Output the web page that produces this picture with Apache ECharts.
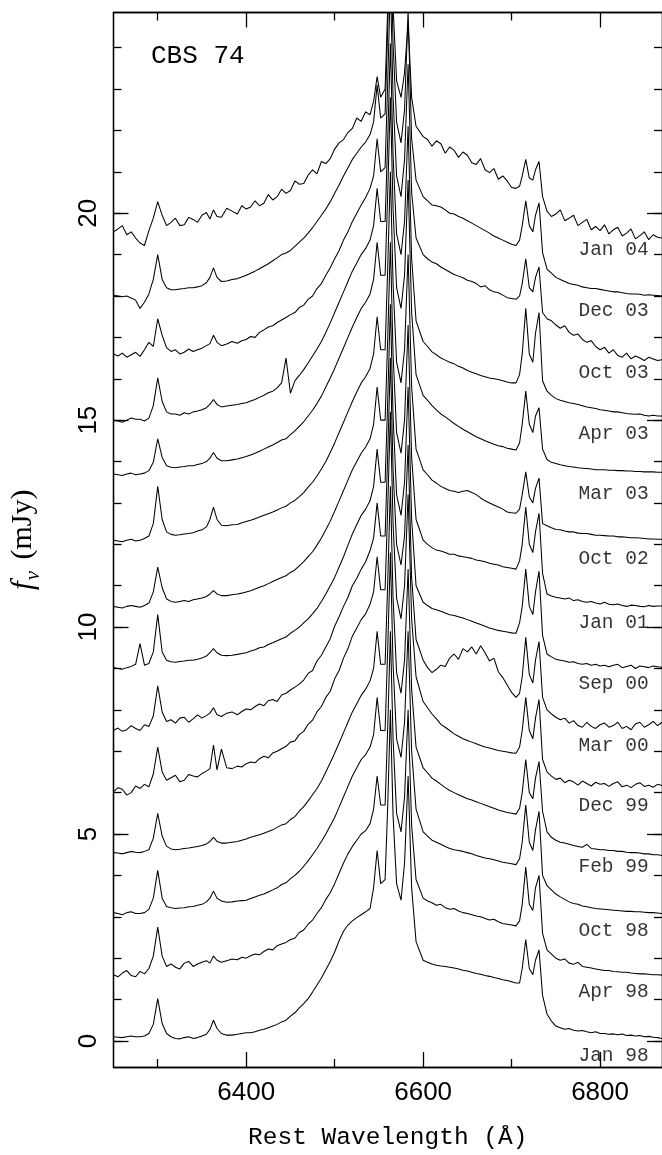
<!DOCTYPE html>
<html>
<head>
<meta charset="utf-8">
<script src="https://cdn.jsdelivr.net/npm/echarts@6/dist/echarts.min.js"></script>
<style>
  html, body { margin: 0; padding: 0; background: #fff; }
  #chart { width: 662px; height: 1155px; }
</style>
</head>
<body>
<div id="chart"></div>
<script>
// Rest wavelength grid (Angstrom) shared by every spectrum, one row per block
const wavelength = [
  6250, 6255, 6260, 6265, 6270, 6275, 6280, 6285, 6290, 6295,
  6300, 6305, 6310, 6315, 6320, 6325, 6330, 6335, 6340, 6345,
  6350, 6355, 6359, 6363, 6367, 6372, 6378, 6384, 6390, 6395,
  6400, 6405, 6410, 6415, 6420, 6425, 6430, 6435, 6440, 6445,
  6450, 6455, 6460, 6465, 6470, 6475, 6480, 6485, 6490, 6495,
  6500, 6505, 6510, 6515, 6520, 6525, 6530, 6535, 6540,
  6544, 6548, 6552, 6557, 6560, 6563, 6566, 6570, 6575, 6579, 6583, 6587, 6592,
  6600, 6605, 6610, 6615, 6620, 6625, 6630, 6635, 6640, 6645, 6650,
  6655, 6660, 6665, 6670, 6675, 6680, 6685, 6690, 6695, 6700, 6705,
  6709, 6712, 6716, 6720, 6724, 6727, 6731, 6735, 6740,
  6745, 6750, 6755, 6760, 6765, 6770, 6775, 6780, 6785, 6790, 6795, 6800, 6805,
  6810, 6815, 6820, 6825, 6830, 6835, 6840, 6845, 6850, 6855, 6860, 6865, 6870
];

// Epoch names, top spectrum first
const epochs = ['Jan 04', 'Dec 03', 'Oct 03', 'Apr 03', 'Mar 03', 'Oct 02', 'Jan 01',
                'Sep 00', 'Mar 00', 'Dec 99', 'Feb 99', 'Oct 98', 'Apr 98', 'Jan 98'];

// Offset flux density (mJy) of each epoch on the wavelength grid
const fluxJan04 = [
  19.55, 19.62, 19.70, 19.48, 19.55, 19.40, 19.28, 19.22, 19.58, 19.88,
  20.28, 19.95, 19.70, 19.78, 19.88, 19.70, 19.72, 19.90, 19.85, 19.78,
  19.95, 20.02, 19.86, 20.08, 19.92, 19.90, 20.12, 20.05, 19.98, 20.18,
  20.10, 20.15, 20.30, 20.18, 20.24, 20.45, 20.32, 20.40, 20.58, 20.48,
  20.55, 20.78, 20.70, 20.72, 20.92, 21.05, 20.95, 21.25, 21.20, 21.32,
  21.55, 21.70, 21.78, 21.95, 22.05, 22.30, 22.22, 22.45, 22.38,
  22.70, 23.30, 22.80, 23.00, 25.00, 27.50, 25.00, 23.20, 22.80, 23.40, 24.60, 22.80, 22.10,
  21.85, 21.78, 21.62, 21.75, 21.68, 21.45, 21.60, 21.52, 21.35, 21.48, 21.40,
  21.22, 21.18, 21.32, 21.05, 20.98, 21.08, 20.82, 20.90, 20.78, 20.62, 20.60,
  20.65, 20.90, 21.30, 20.85, 20.80, 21.05, 21.25, 20.40, 20.05,
  19.92, 19.98, 20.08, 19.82, 19.88, 19.95, 19.70, 19.78, 19.85, 19.60, 19.68, 19.58, 19.72,
  19.50, 19.60, 19.66, 19.45, 19.52, 19.62, 19.38, 19.46, 19.55, 19.36, 19.48, 19.42, 19.40
];
const fluxDec03 = [
  18.02, 18.00, 17.98, 18.00, 17.95, 17.90, 17.70, 17.85, 18.05, 18.40,
  19.00, 18.40, 18.20, 18.15, 18.15, 18.17, 18.18, 18.20, 18.20, 18.22,
  18.25, 18.32, 18.45, 18.68, 18.45, 18.35, 18.36, 18.40, 18.42, 18.46,
  18.50, 18.55, 18.60, 18.66, 18.72, 18.78, 18.85, 18.92, 19.00, 19.04,
  19.10, 19.20, 19.30, 19.40, 19.52, 19.65, 19.80, 19.95, 20.10, 20.28,
  20.48, 20.68, 20.90, 21.10, 21.30, 21.45, 21.60, 21.72, 21.90,
  22.20, 23.10, 22.30, 22.40, 24.50, 26.90, 24.10, 22.20, 21.70, 22.50, 24.90, 21.80, 20.80,
  20.40, 20.30, 20.20, 20.18, 20.15, 20.08, 20.00, 19.98, 19.92, 19.88, 19.82,
  19.76, 19.70, 19.64, 19.58, 19.52, 19.45, 19.40, 19.35, 19.30, 19.25, 19.22,
  19.35, 19.70, 20.30, 19.70, 19.55, 19.95, 20.25, 19.05, 18.65,
  18.55, 18.45, 18.40, 18.35, 18.30, 18.28, 18.26, 18.22, 18.20, 18.18, 18.18, 18.16, 18.14,
  18.12, 18.10, 18.10, 18.08, 18.06, 18.05, 18.05, 18.04, 18.02, 18.03, 18.02, 18.01, 18.00
];
const fluxOct03 = [
  16.60, 16.55, 16.62, 16.52, 16.58, 16.64, 16.54, 16.70, 16.88, 16.78,
  17.45, 17.05, 16.75, 16.66, 16.70, 16.60, 16.64, 16.72, 16.66, 16.70,
  16.74, 16.80, 16.85, 17.05, 16.88, 16.80, 16.84, 16.90, 16.86, 16.92,
  16.95, 17.02, 17.00, 17.12, 17.18, 17.25, 17.28, 17.36, 17.42, 17.48,
  17.55, 17.60, 17.72, 17.78, 17.92, 18.00, 18.18, 18.30, 18.50, 18.68,
  18.90, 19.10, 19.35, 19.55, 19.80, 20.00, 20.20, 20.38, 20.60,
  20.90, 21.80, 21.00, 21.10, 23.20, 25.60, 22.80, 20.90, 20.40, 21.30, 23.60, 20.50, 19.40,
  19.00, 18.90, 18.82, 18.78, 18.70, 18.64, 18.58, 18.52, 18.48, 18.44, 18.38,
  18.35, 18.30, 18.22, 18.25, 18.15, 18.10, 18.08, 18.02, 17.96, 17.94, 17.92,
  18.00, 18.30, 18.90, 18.20, 18.10, 18.45, 18.70, 17.60, 17.45,
  17.40, 17.30, 17.22, 17.28, 17.12, 17.05, 17.08, 16.95, 16.88, 16.92, 16.78, 16.70, 16.76,
  16.62, 16.70, 16.56, 16.52, 16.62, 16.48, 16.55, 16.50, 16.44, 16.52, 16.48, 16.44, 16.46
];
const fluxApr03 = [
  15.00, 14.98, 14.95, 15.00, 15.05, 15.02, 15.02, 14.98, 15.05, 15.35,
  16.02, 15.45, 15.20, 15.15, 15.15, 15.12, 15.18, 15.15, 15.20, 15.22,
  15.25, 15.30, 15.38, 15.50, 15.38, 15.32, 15.34, 15.36, 15.38, 15.40,
  15.42, 15.46, 15.50, 15.55, 15.60, 15.66, 15.70, 15.78, 15.90, 16.50,
  15.65, 15.95, 16.08, 16.22, 16.38, 16.55, 16.72, 16.90, 17.12, 17.35,
  17.60, 17.85, 18.10, 18.35, 18.60, 18.80, 19.00, 19.15, 19.35,
  19.70, 20.60, 19.80, 19.80, 21.80, 24.10, 21.40, 19.50, 19.00, 19.80, 22.10, 18.90, 17.40,
  16.90, 16.78, 16.65, 16.58, 16.50, 16.45, 16.40, 16.36, 16.30, 16.26, 16.20,
  16.16, 16.12, 16.08, 16.05, 16.02, 16.00, 15.98, 15.95, 15.92, 15.90, 15.90,
  16.10, 16.60, 17.70, 16.60, 16.40, 17.10, 17.60, 15.95, 15.70,
  15.60, 15.52, 15.48, 15.45, 15.42, 15.40, 15.38, 15.35, 15.32, 15.30, 15.28, 15.25, 15.24,
  15.22, 15.20, 15.20, 15.18, 15.16, 15.15, 15.14, 15.15, 15.12, 15.10, 15.12, 15.10, 15.10
];
const fluxMar03 = [
  13.70, 13.68, 13.66, 13.70, 13.72, 13.68, 13.70, 13.72, 13.78, 13.98,
  14.55, 14.10, 13.90, 13.86, 13.85, 13.87, 13.88, 13.90, 13.90, 13.93,
  13.95, 14.00, 14.08, 14.22, 14.08, 14.02, 14.02, 14.04, 14.06, 14.09,
  14.12, 14.16, 14.20, 14.25, 14.30, 14.35, 14.40, 14.46, 14.52, 14.55,
  14.65, 14.74, 14.85, 14.96, 15.10, 15.24, 15.40, 15.58, 15.80, 16.02,
  16.25, 16.50, 16.75, 17.00, 17.25, 17.48, 17.70, 17.85, 18.05,
  18.40, 19.30, 18.50, 18.50, 20.50, 22.80, 20.10, 18.20, 17.70, 18.50, 20.80, 17.60, 16.10,
  15.60, 15.48, 15.35, 15.25, 15.15, 15.08, 15.00, 14.92, 14.85, 14.78, 14.72,
  14.66, 14.60, 14.55, 14.50, 14.46, 14.42, 14.38, 14.36, 14.32, 14.30, 14.28,
  14.45, 14.90, 15.70, 14.90, 14.70, 15.10, 15.30, 14.30, 14.05,
  13.98, 13.95, 13.92, 13.90, 13.88, 13.87, 13.85, 13.84, 13.83, 13.82, 13.80, 13.80, 13.80,
  13.79, 13.79, 13.78, 13.78, 13.77, 13.77, 13.76, 13.76, 13.75, 13.75, 13.75, 13.74, 13.74
];
const fluxOct02 = [
  12.10, 12.08, 12.06, 12.10, 12.12, 12.08, 12.10, 12.14, 12.20, 12.50,
  13.40, 12.60, 12.30, 12.24, 12.22, 12.23, 12.25, 12.26, 12.28, 12.32,
  12.35, 12.42, 12.60, 12.90, 12.60, 12.46, 12.45, 12.47, 12.48, 12.52,
  12.55, 12.58, 12.62, 12.66, 12.70, 12.74, 12.78, 12.83, 12.88, 12.92,
  13.00, 13.06, 13.15, 13.25, 13.38, 13.50, 13.65, 13.82, 14.00, 14.22,
  14.45, 14.70, 14.95, 15.20, 15.45, 15.68, 15.90, 16.05, 16.25,
  16.60, 17.50, 16.70, 16.70, 18.70, 21.00, 18.30, 16.40, 15.90, 16.70, 19.00, 15.80, 14.30,
  13.80, 13.68, 13.55, 13.48, 13.40, 13.35, 13.30, 13.28, 13.25, 13.28, 13.30,
  13.25, 13.20, 13.12, 13.05, 13.00, 12.95, 12.90, 12.85, 12.78, 12.76, 12.75,
  12.85, 13.20, 13.75, 13.15, 13.00, 13.35, 13.60, 12.50, 12.45,
  12.40, 12.36, 12.35, 12.32, 12.30, 12.30, 12.27, 12.26, 12.26, 12.24, 12.22, 12.22, 12.21,
  12.20, 12.20, 12.18, 12.18, 12.17, 12.16, 12.16, 12.15, 12.14, 12.13, 12.13, 12.12, 12.12
];
const fluxJan01 = [
  10.50, 10.48, 10.46, 10.50, 10.52, 10.50, 10.48, 10.52, 10.58, 10.85,
  11.45, 10.95, 10.68, 10.62, 10.60, 10.62, 10.64, 10.62, 10.66, 10.68,
  10.70, 10.74, 10.80, 10.88, 10.80, 10.76, 10.76, 10.78, 10.80, 10.82,
  10.85, 10.88, 10.92, 10.96, 11.00, 11.05, 11.10, 11.15, 11.20, 11.24,
  11.32, 11.38, 11.48, 11.58, 11.70, 11.82, 11.98, 12.15, 12.35, 12.56,
  12.80, 13.05, 13.30, 13.55, 13.80, 14.00, 14.20, 14.35, 14.55,
  14.90, 15.80, 15.00, 15.00, 17.00, 19.30, 16.60, 14.70, 14.20, 15.00, 17.30, 14.10, 12.60,
  12.10, 12.00, 11.92, 11.86, 11.84, 11.80, 11.76, 11.76, 11.72, 11.70, 11.68,
  11.66, 11.62, 11.60, 11.58, 11.54, 11.52, 11.50, 11.46, 11.44, 11.42, 11.40,
  11.60, 12.00, 12.90, 12.00, 11.80, 12.30, 12.75, 11.30, 10.80,
  10.75, 10.72, 10.70, 10.68, 10.70, 10.64, 10.66, 10.62, 10.60, 10.62, 10.58, 10.56, 10.60,
  10.55, 10.54, 10.56, 10.52, 10.50, 10.53, 10.52, 10.50, 10.49, 10.52, 10.50, 10.51, 10.51
];
const fluxSep00 = [
  9.02, 9.00, 8.98, 9.02, 9.05, 9.10, 9.60, 9.08, 9.12, 9.40,
  10.30, 9.40, 9.20, 9.16, 9.15, 9.17, 9.18, 9.20, 9.20, 9.22,
  9.25, 9.30, 9.38, 9.48, 9.38, 9.32, 9.31, 9.32, 9.34, 9.36,
  9.38, 9.42, 9.45, 9.50, 9.52, 9.58, 9.62, 9.67, 9.72, 9.76,
  9.85, 9.92, 10.00, 10.10, 10.20, 10.32, 10.45, 10.62, 10.80, 11.00,
  11.20, 11.45, 11.70, 11.98, 12.25, 12.48, 12.70, 12.85, 13.05,
  13.40, 14.30, 13.50, 13.50, 15.50, 17.80, 15.10, 13.20, 12.70, 13.50, 15.80, 12.60, 11.00,
  10.60, 10.52, 10.45, 10.42, 10.38, 10.34, 10.30, 10.28, 10.25, 10.22, 10.18,
  10.14, 10.10, 10.06, 10.02, 9.98, 9.95, 9.92, 9.90, 9.88, 9.86, 9.85,
  10.10, 10.50, 11.40, 10.50, 10.30, 10.85, 11.35, 9.80, 9.35,
  9.28, 9.22, 9.20, 9.18, 9.15, 9.16, 9.12, 9.10, 9.12, 9.08, 9.10, 9.06, 9.08,
  9.04, 9.08, 9.10, 9.02, 9.05, 9.08, 9.00, 9.06, 9.04, 9.02, 9.06, 9.04, 9.03
];
const fluxMar00 = [
  7.50, 7.56, 7.48, 7.52, 7.62, 7.55, 7.50, 7.64, 7.60, 7.85,
  8.58, 7.95, 7.72, 7.76, 7.68, 7.80, 7.82, 7.70, 7.78, 7.88,
  7.80, 7.86, 7.92, 8.05, 7.88, 7.84, 7.92, 7.95, 7.88, 7.96,
  8.02, 8.00, 8.08, 8.14, 8.10, 8.22, 8.25, 8.20, 8.36, 8.40,
  8.48, 8.55, 8.62, 8.72, 8.88, 8.95, 9.18, 9.32, 9.52, 9.72,
  10.02, 10.25, 10.50, 10.72, 11.00, 11.18, 11.40, 11.58, 11.85,
  12.15, 13.00, 12.20, 12.20, 14.20, 16.50, 13.80, 12.00, 11.50, 12.20, 14.40, 11.20, 9.70,
  9.20, 9.02, 8.90, 8.98, 9.08, 9.05, 9.25, 9.35, 9.22, 9.48, 9.40,
  9.52, 9.35, 9.55, 9.38, 9.18, 9.25, 8.92, 8.78, 8.60, 8.42, 8.30,
  8.40, 8.80, 9.75, 8.85, 8.65, 9.20, 9.65, 8.30, 8.00,
  7.90, 7.82, 7.76, 7.80, 7.68, 7.74, 7.62, 7.58, 7.70, 7.60, 7.55, 7.64, 7.68,
  7.58, 7.62, 7.70, 7.55, 7.60, 7.52, 7.66, 7.70, 7.58, 7.64, 7.72, 7.62, 7.70
];
const fluxDec99 = [
  6.02, 6.12, 6.08, 5.94, 6.00, 6.16, 6.10, 6.20, 6.14, 6.45,
  7.10, 6.50, 6.30, 6.36, 6.42, 6.26, 6.30, 6.44, 6.40, 6.38,
  6.46, 6.52, 6.58, 7.15, 6.55, 7.05, 6.60, 6.58, 6.64, 6.62,
  6.70, 6.74, 6.72, 6.82, 6.88, 6.84, 6.96, 7.00, 7.06, 7.12,
  7.22, 7.25, 7.40, 7.48, 7.65, 7.75, 7.95, 8.08, 8.30, 8.45,
  8.75, 8.95, 9.25, 9.48, 9.78, 9.98, 10.18, 10.32, 10.55,
  10.85, 11.70, 10.90, 10.90, 12.90, 15.20, 12.50, 10.70, 10.20, 11.00, 13.20, 10.20, 8.80,
  8.20, 8.05, 7.90, 7.78, 7.65, 7.58, 7.50, 7.42, 7.36, 7.30, 7.26,
  7.22, 7.18, 7.14, 7.10, 7.08, 7.05, 7.02, 7.00, 6.98, 6.96, 6.95,
  7.10, 7.50, 8.30, 7.50, 7.30, 7.80, 8.25, 6.80, 6.50,
  6.40, 6.32, 6.35, 6.24, 6.30, 6.26, 6.18, 6.28, 6.22, 6.16, 6.25, 6.20, 6.22,
  6.15, 6.22, 6.26, 6.14, 6.18, 6.12, 6.20, 6.24, 6.15, 6.18, 6.13, 6.20, 6.17
];
const fluxFeb99 = [
  4.55, 4.54, 4.52, 4.55, 4.58, 4.56, 4.55, 4.58, 4.62, 4.90,
  5.50, 4.95, 4.70, 4.64, 4.62, 4.63, 4.65, 4.66, 4.68, 4.70,
  4.72, 4.76, 4.82, 4.92, 4.82, 4.78, 4.78, 4.80, 4.82, 4.85,
  4.88, 4.92, 4.95, 4.98, 5.02, 5.06, 5.10, 5.16, 5.22, 5.25,
  5.35, 5.42, 5.55, 5.66, 5.80, 5.95, 6.10, 6.28, 6.50, 6.72,
  6.95, 7.20, 7.45, 7.70, 7.95, 8.15, 8.35, 8.50, 8.70,
  9.00, 9.90, 9.10, 9.10, 11.10, 13.40, 10.70, 8.90, 8.40, 9.20, 11.40, 8.50, 7.10,
  6.60, 6.48, 6.35, 6.28, 6.20, 6.12, 6.05, 6.00, 5.95, 5.90, 5.85,
  5.82, 5.78, 5.74, 5.70, 5.66, 5.62, 5.58, 5.55, 5.52, 5.50, 5.48,
  5.62, 6.00, 6.80, 6.00, 5.85, 6.35, 6.75, 5.55, 5.05,
  4.92, 4.85, 4.80, 4.78, 4.75, 4.72, 4.70, 4.68, 4.75, 4.65, 4.64, 4.62, 4.62,
  4.60, 4.60, 4.58, 4.58, 4.56, 4.55, 4.55, 4.54, 4.52, 4.52, 4.50, 4.50, 4.48
];
const fluxOct98 = [
  3.10, 3.08, 3.05, 3.10, 3.12, 3.08, 3.08, 3.10, 3.18, 3.45,
  4.12, 3.45, 3.25, 3.22, 3.20, 3.21, 3.22, 3.24, 3.25, 3.28,
  3.30, 3.36, 3.45, 3.62, 3.45, 3.38, 3.35, 3.36, 3.38, 3.39,
  3.40, 3.44, 3.48, 3.52, 3.55, 3.60, 3.65, 3.70, 3.78, 3.82,
  3.92, 4.00, 4.10, 4.22, 4.35, 4.50, 4.65, 4.82, 5.00, 5.20,
  5.40, 5.65, 5.90, 6.15, 6.40, 6.60, 6.80, 6.92, 7.10,
  7.40, 8.30, 7.50, 7.50, 9.50, 11.80, 9.10, 7.30, 6.85, 7.70, 9.90, 7.00, 5.60,
  5.05, 4.95, 4.85, 4.80, 4.75, 4.70, 4.65, 4.62, 4.60, 4.58, 4.55,
  4.52, 4.48, 4.45, 4.42, 4.40, 4.38, 4.35, 4.32, 4.30, 4.28, 4.26,
  4.40, 4.80, 5.70, 4.80, 4.60, 5.10, 5.55, 4.00, 3.75,
  3.65, 3.55, 3.48, 3.42, 3.36, 3.32, 3.30, 3.26, 3.24, 3.22, 3.20, 3.19, 3.18,
  3.17, 3.16, 3.15, 3.14, 3.13, 3.13, 3.12, 3.12, 3.11, 3.10, 3.10, 3.09, 3.08
];
const fluxApr98 = [
  1.60, 1.55, 1.64, 1.70, 1.58, 1.55, 1.68, 1.62, 1.75, 2.05,
  2.75, 2.05, 1.80, 1.86, 1.78, 1.74, 1.88, 1.92, 1.80, 1.86,
  1.90, 1.94, 1.88, 2.05, 1.95, 1.90, 1.94, 1.98, 1.96, 2.02,
  2.00, 2.06, 2.10, 2.08, 2.16, 2.22, 2.20, 2.30, 2.34, 2.38,
  2.45, 2.48, 2.62, 2.68, 2.82, 2.92, 3.08, 3.22, 3.42, 3.58,
  3.80, 4.05, 4.30, 4.52, 4.70, 4.85, 5.00, 5.08, 5.25,
  5.60, 6.40, 5.70, 5.70, 7.60, 9.90, 7.30, 5.50, 5.05, 5.90, 8.00, 5.20, 3.90,
  3.45, 3.38, 3.34, 3.28, 3.30, 3.22, 3.18, 3.20, 3.14, 3.10, 3.08,
  3.05, 3.02, 3.00, 2.96, 2.92, 2.94, 2.88, 2.84, 2.82, 2.80, 2.78,
  2.90, 3.30, 4.20, 3.30, 3.15, 3.70, 4.00, 2.60, 2.20,
  2.10, 2.00, 1.95, 1.98, 1.88, 1.85, 1.90, 1.80, 1.78, 1.76, 1.74, 1.72, 1.70,
  1.70, 1.68, 1.67, 1.66, 1.66, 1.64, 1.63, 1.62, 1.62, 1.61, 1.60, 1.60, 1.59
];
const fluxJan98 = [
  0.10, 0.09, 0.08, 0.10, 0.12, 0.10, 0.10, 0.12, 0.18, 0.40,
  1.02, 0.42, 0.18, 0.10, 0.06, 0.05, 0.08, 0.10, 0.06, 0.08,
  0.12, 0.16, 0.28, 0.50, 0.30, 0.18, 0.14, 0.14, 0.16, 0.18,
  0.20, 0.20, 0.22, 0.26, 0.28, 0.32, 0.36, 0.40, 0.46, 0.50,
  0.60, 0.68, 0.80, 0.90, 1.02, 1.18, 1.35, 1.52, 1.72, 1.92,
  2.15, 2.42, 2.65, 2.80, 2.90, 2.98, 3.05, 3.12, 3.20,
  3.70, 4.60, 3.80, 3.90, 5.70, 8.00, 5.45, 3.80, 3.40, 4.30, 6.40, 3.70, 2.40,
  1.95, 1.90, 1.86, 1.83, 1.81, 1.80, 1.78, 1.76, 1.74, 1.71, 1.69,
  1.66, 1.63, 1.61, 1.58, 1.56, 1.53, 1.51, 1.48, 1.46, 1.43, 1.40,
  1.40, 1.75, 2.45, 1.75, 1.60, 1.95, 2.20, 1.10, 0.65,
  0.48, 0.36, 0.32, 0.28, 0.30, 0.26, 0.24, 0.25, 0.22, 0.20, 0.22, 0.18, 0.18,
  0.16, 0.17, 0.15, 0.17, 0.13, 0.14, 0.12, 0.13, 0.10, 0.11, 0.09, 0.08, 0.06
];

const spectra = [fluxJan04, fluxDec03, fluxOct03, fluxApr03, fluxMar03, fluxOct02, fluxJan01,
                 fluxSep00, fluxMar00, fluxDec99, fluxFeb99, fluxOct98, fluxApr98, fluxJan98];

// Flux level at which each epoch name sits, under the red end of its spectrum
const labelLevel = [19.12, 17.63, 16.14, 14.66, 13.21, 11.64, 10.11, 8.62, 7.14, 5.69, 4.20, 2.67, 1.19, -0.35];

// Tick values
const xMajorTicks = [6400, 6600, 6800];
const xMinorTicks = [6300, 6500, 6700];
const yMajorTicks = [0, 5, 10, 15, 20];
const yMinorTicks = [0, 1, 2, 3, 4, 5, 6, 7, 8, 9, 10, 11, 12, 13, 14, 15, 16, 17, 18, 19, 20, 21, 22, 23, 24];

// ---- layout and styling ----
const X_MIN = 6250, X_MAX = 6870;
const Y_MIN = -0.63, Y_MAX = 24.85;
const LABEL_X = 6855.5;
const INK = '#000';
const MONO = '"Liberation Mono", "DejaVu Sans Mono", monospace';
const SANS = '"Liberation Sans", Arial, sans-serif';
const SERIF = '"Liberation Serif", "DejaVu Serif", serif';
const plainNumber = v => String(v);

function xAxisFrame(position, ticks, tickLen, withLabels) {
  const ax = {
    type: 'value', gridIndex: 0, position: position, min: X_MIN, max: X_MAX,
    axisLine: { show: true, onZero: false, lineStyle: { color: INK, width: 1.3 } },
    axisTick: { show: true, inside: true, length: tickLen, customValues: ticks,
                lineStyle: { color: INK, width: 1.3 } },
    axisLabel: { show: false },
    splitLine: { show: false }
  };
  if (withLabels) {
    ax.axisLabel = { show: true, customValues: ticks, margin: 13, formatter: plainNumber,
                     fontFamily: SANS, fontSize: 26, color: INK };
    ax.name = 'Rest Wavelength (Å)';
    ax.nameLocation = 'middle';
    ax.nameGap = 58;
    ax.nameTextStyle = { fontFamily: MONO, fontSize: 24.5, color: INK };
  }
  return ax;
}

function yAxisFrame(position, ticks, tickLen, withLabels) {
  const ax = {
    type: 'value', gridIndex: 0, position: position, min: Y_MIN, max: Y_MAX,
    axisLine: { show: true, onZero: false, lineStyle: { color: INK, width: 1.3 } },
    axisTick: { show: true, inside: true, length: tickLen, customValues: ticks,
                lineStyle: { color: INK, width: 1.3 } },
    axisLabel: { show: false },
    splitLine: { show: false }
  };
  if (withLabels) {
    ax.axisLabel = { show: true, customValues: ticks, rotate: 90, margin: 12, formatter: plainNumber,
                     fontFamily: SANS, fontSize: 26, color: INK };
    ax.name = '{f|f}{nu|ν} (mJy)';
    ax.nameLocation = 'middle';
    ax.nameRotate = 90;
    ax.nameGap = 70;
    ax.nameTextStyle = {
      fontFamily: SERIF, fontSize: 30, color: INK,
      rich: {
        f: { fontFamily: SERIF, fontStyle: 'italic', fontSize: 31, color: INK, lineHeight: 40, verticalAlign: 'middle' },
        nu: { fontFamily: SERIF, fontStyle: 'italic', fontSize: 21, color: INK, lineHeight: 40, verticalAlign: 'bottom', padding: [0, 4, 0, 1] }
      }
    };
  }
  return ax;
}

const lineSeries = spectra.map((flux, i) => ({
  type: 'line',
  name: epochs[i],
  xAxisIndex: 0,
  yAxisIndex: 0,
  showSymbol: false,
  symbol: 'none',
  clip: true,
  silent: true,
  lineStyle: { color: INK, width: 1.05 },
  data: wavelength.map((w, k) => [w, flux[k]])
}));

const epochLabels = {
  type: 'scatter',
  xAxisIndex: 0,
  yAxisIndex: 0,
  symbolSize: 1,
  silent: true,
  itemStyle: { color: 'rgba(0,0,0,0)' },
  label: {
    show: true, position: 'left', distance: 0,
    formatter: p => p.name,
    fontFamily: MONO, fontSize: 19.5, color: INK
  },
  data: epochs.map((e, i) => ({ name: e, value: [LABEL_X, labelLevel[i]] }))
};

const chart = echarts.init(document.getElementById('chart'), null, { renderer: 'canvas' });
chart.setOption({
  animation: false,
  backgroundColor: '#fff',
  title: {
    text: 'CBS 74', left: 146, top: 38,
    textStyle: { fontFamily: MONO, fontSize: 26, fontWeight: 'normal', color: INK }
  },
  grid: { left: 106, top: 12.5, width: 559, height: 1056.5, containLabel: false },
  xAxis: [
    xAxisFrame('bottom', xMajorTicks, 15, true),
    xAxisFrame('bottom', xMinorTicks, 8, false),
    xAxisFrame('top', xMajorTicks, 15, false),
    xAxisFrame('top', xMinorTicks, 8, false)
  ],
  yAxis: [
    yAxisFrame('left', yMajorTicks, 15, true),
    yAxisFrame('left', yMinorTicks, 8, false),
    yAxisFrame('right', yMajorTicks, 15, false),
    yAxisFrame('right', yMinorTicks, 8, false)
  ],
  series: lineSeries.concat([epochLabels])
});
</script>
</body>
</html>
